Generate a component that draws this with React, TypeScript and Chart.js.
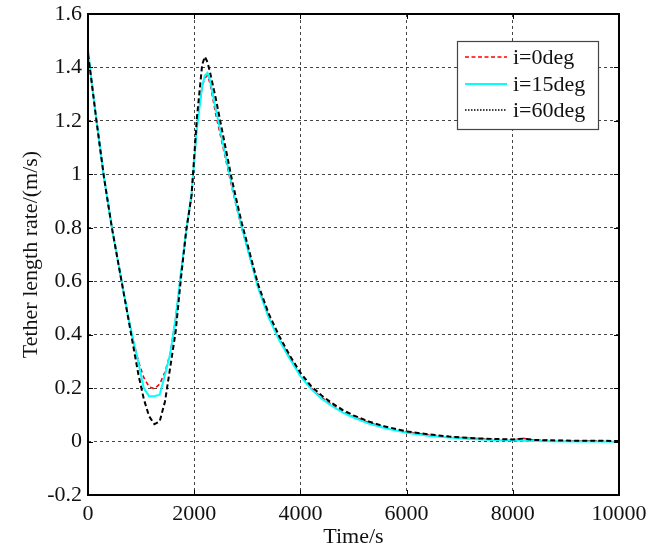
import React, { useEffect, useRef } from 'react';
import { Chart, registerables } from 'chart.js';

Chart.register(...registerables);

// Time (s)
const time = [
  0, 60, 150, 300, 450, 600, 750, 850, 950, 1050, 1150, 1250, 1350, 1450, 1550, 1650, 1750, 1850, 1950,
  2050, 2150, 2200, 2250, 2300, 2400, 2500, 2600, 2700, 2800, 2900, 3000, 3200, 3400, 3600, 3800, 4000,
  4200, 4400, 4600, 4800, 5000, 5300, 5600, 6000, 6400, 6800, 7200, 7600, 8000, 8200, 8400, 8800, 9200,
  9600, 10000,
];

// Tether length rate (m/s), i = 0 deg
const rate0 = [
  1.46, 1.36, 1.215, 0.99, 0.8, 0.635, 0.475, 0.38, 0.3, 0.24, 0.205, 0.198, 0.215, 0.26, 0.33, 0.46, 0.63,
  0.79, 0.92, 1.18, 1.33, 1.36, 1.37, 1.34, 1.23, 1.14, 1.05, 0.96, 0.875, 0.795, 0.725, 0.58, 0.47, 0.385,
  0.315, 0.25, 0.2, 0.165, 0.137, 0.112, 0.093, 0.07, 0.053, 0.036, 0.025, 0.018, 0.012, 0.009, 0.006, 0.012,
  0.005, 0.004, 0.002, 0.003, 0.001,
];

// i = 15 deg
const rate15 = [
  1.47, 1.36, 1.215, 0.99, 0.8, 0.635, 0.475, 0.38, 0.295, 0.2, 0.17, 0.17, 0.175, 0.25, 0.33, 0.46, 0.63,
  0.79, 0.93, 1.17, 1.33, 1.37, 1.38, 1.35, 1.25, 1.155, 1.06, 0.97, 0.88, 0.8, 0.725, 0.578, 0.465, 0.38,
  0.31, 0.245, 0.197, 0.16, 0.132, 0.108, 0.09, 0.066, 0.05, 0.033, 0.022, 0.015, 0.01, 0.006, 0.004, 0.003,
  0.002, 0.001, 0.0, 0.0, -0.001,
];

// i = 60 deg
const rate60 = [
  1.45, 1.36, 1.215, 0.99, 0.8, 0.635, 0.47, 0.36, 0.25, 0.16, 0.095, 0.065, 0.075, 0.15, 0.28, 0.41, 0.61,
  0.79, 0.92, 1.21, 1.41, 1.44, 1.42, 1.38, 1.29, 1.19, 1.09, 0.99, 0.9, 0.815, 0.74, 0.59, 0.48, 0.395,
  0.322, 0.258, 0.208, 0.172, 0.143, 0.118, 0.098, 0.074, 0.056, 0.038, 0.027, 0.019, 0.013, 0.01, 0.008,
  0.011, 0.006, 0.004, 0.003, 0.003, 0.002,
];

const seriesLabels = ['i=0deg', 'i=15deg', 'i=60deg'];
const xAxisTitle = 'Time/s';
const yAxisTitle = 'Tether length rate/(m/s)';

const FONT = '"Liberation Serif", serif';

const toPoints = (ys: number[]) => ys.map((y, i) => ({ x: time[i], y }));

const decorPlugin = {
  id: 'decor',
  afterDatasetsDraw(chart: any) {
    const { ctx, chartArea } = chart;
    const { left, right, top, bottom } = chartArea;
    const xs = chart.scales.x;
    const ys = chart.scales.y;
    ctx.save();
    // inner tick marks
    ctx.strokeStyle = '#000';
    ctx.lineWidth = 1;
    ctx.setLineDash([]);
    const tl = 5;
    xs.ticks.forEach((t: any) => {
      const px = Math.round(xs.getPixelForValue(t.value)) + 0.5;
      ctx.beginPath();
      ctx.moveTo(px, bottom);
      ctx.lineTo(px, bottom - tl);
      ctx.moveTo(px, top);
      ctx.lineTo(px, top + tl);
      ctx.stroke();
    });
    ys.ticks.forEach((t: any) => {
      const py = Math.round(ys.getPixelForValue(t.value)) + 0.5;
      ctx.beginPath();
      ctx.moveTo(left, py);
      ctx.lineTo(left + tl, py);
      ctx.moveTo(right, py);
      ctx.lineTo(right - tl, py);
      ctx.stroke();
    });
    // frame
    ctx.lineWidth = 2;
    ctx.strokeRect(left, top, right - left, bottom - top);

    // legend
    const bx = right - 162;
    const by = top + 27;
    const bw = 141;
    const bh = 88;
    ctx.fillStyle = '#fff';
    ctx.fillRect(bx, by, bw, bh);
    ctx.strokeStyle = '#444';
    ctx.lineWidth = 1.2;
    ctx.strokeRect(bx + 0.5, by + 0.5, bw, bh);
    const rows = [16, 43, 69];
    chart.data.datasets.forEach((ds: any, i: number) => {
      const y = by + rows[i];
      ctx.strokeStyle = ds.borderColor;
      ctx.lineWidth = ds.legendWidth;
      ctx.setLineDash(ds.legendDash);
      ctx.beginPath();
      ctx.moveTo(bx + 8, y);
      ctx.lineTo(bx + 50, y);
      ctx.stroke();
      ctx.setLineDash([]);
      ctx.fillStyle = '#111';
      ctx.font = `22px ${FONT}`;
      ctx.textBaseline = 'middle';
      ctx.textAlign = 'left';
      ctx.fillText(ds.label, bx + 56, y + 1);
    });
    ctx.restore();
  },
};

export default function App() {
  const canvasRef = useRef<HTMLCanvasElement | null>(null);

  useEffect(() => {
    if (!canvasRef.current) return;
    const chart = new Chart(canvasRef.current, {
      type: 'line',
      data: {
        datasets: [
          {
            label: seriesLabels[0],
            data: toPoints(rate0),
            borderColor: '#ff0000',
            borderWidth: 1.6,
            borderDash: [4, 3],
            pointRadius: 0,
            tension: 0,
            order: 2,
            legendDash: [4, 2.5],
            legendWidth: 1.6,
          } as any,
          {
            label: seriesLabels[1],
            data: toPoints(rate15),
            borderColor: '#00ffff',
            borderWidth: 2,
            pointRadius: 0,
            tension: 0,
            order: 1,
            legendDash: [],
            legendWidth: 2,
          } as any,
          {
            label: seriesLabels[2],
            data: toPoints(rate60),
            borderColor: '#000000',
            borderWidth: 2,
            borderDash: [5, 3],
            pointRadius: 0,
            tension: 0,
            order: 0,
            legendDash: [1.5, 1.5],
            legendWidth: 1.5,
          } as any,
        ],
      },
      options: {
        animation: false,
        responsive: false,
        events: [],
        layout: { padding: { top: 14, right: 32, bottom: 0, left: 0 } },
        plugins: {
          legend: { display: false },
          tooltip: { enabled: false },
        },
        scales: {
          x: {
            type: 'linear',
            min: 0,
            max: 10000,
            ticks: {
              stepSize: 2000,
              padding: 6,
              color: '#111',
              font: { family: FONT, size: 22 },
              maxRotation: 0,
              callback: (v: any) => String(v),
            },
            grid: {
              color: '#444',
              lineWidth: 1,
              drawTicks: false,
            },
            border: { display: false, dash: [3, 3] },
            title: {
              display: true,
              text: xAxisTitle,
              color: '#111',
              font: { family: FONT, size: 22 },
              padding: { top: 0, bottom: 2 },
            },
            afterFit: (s: any) => {
              s.height = 57;
              s.paddingLeft = 0;
              s.paddingRight = 0;
            },
          },
          y: {
            type: 'linear',
            min: -0.2,
            max: 1.6,
            ticks: {
              stepSize: 0.2,
              padding: 6,
              color: '#111',
              font: { family: FONT, size: 22 },
              callback: (v: any) => String(+Number(v).toFixed(1)),
            },
            grid: {
              color: '#444',
              lineWidth: 1,
              drawTicks: false,
            },
            border: { display: false, dash: [3, 3] },
            title: {
              display: true,
              text: yAxisTitle,
              color: '#111',
              font: { family: FONT, size: 22 },
              padding: { top: 18, bottom: 0 },
            },
            afterFit: (s: any) => {
              s.width = 88;
              s.paddingTop = 0;
              s.paddingBottom = 0;
            },
          },
        },
      },
      plugins: [decorPlugin],
    });
    return () => chart.destroy();
  }, []);

  return (
    <div style={{ position: 'absolute', left: 0, top: 0, width: 651, height: 552, background: '#fff' }}>
      <canvas ref={canvasRef} width={651} height={552} />
    </div>
  );
}
